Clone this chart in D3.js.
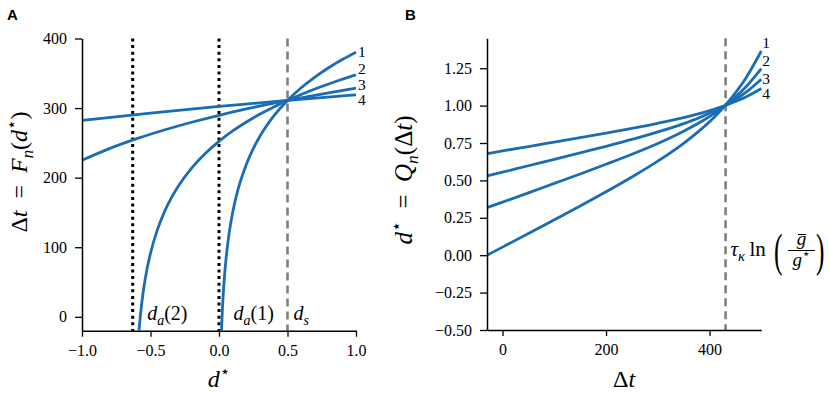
<!DOCTYPE html>
<html><head><meta charset="utf-8">
<script src="https://cdn.jsdelivr.net/npm/d3@7"></script>
<style>body{margin:0;background:#fff}svg{display:block}</style>
</head><body>
<svg id="c" width="829" height="394"></svg>
<script>
// ---------- Panel A data: Δt = F_n(d*) ----------
const a1D = [0.0183,0.02,0.025,0.03,0.035,0.04,0.05,0.06,0.075,0.1,0.125,0.15,0.2,0.25,0.3,0.4,0.5,0.6,0.7,0.8,0.9,1.0];
const a1T = [-20,-10.9,11.4,29.7,45.1,58.4,80.7,99.0,121.3,150.1,172.4,190.6,219.4,241.7,259.9,288.7,311,329.2,344.6,358.0,369.8,380.3];
const a2D = [-0.584,-0.58,-0.575,-0.55,-0.525,-0.5,-0.45,-0.4,-0.35,-0.3,-0.2,-0.1,0,0.1,0.2,0.3,0.4,0.5,0.6,0.7,0.8,0.9,1.0];
const a2T = [-20,-10.9,-0.4,40.2,69.0,91.3,124.9,150.1,170.1,186.8,213.7,234.8,252.2,267.1,280.0,291.4,301.7,311,319.5,327.4,334.6,341.4,347.8];
const a3D = [-1,-0.8,-0.6,-0.4,-0.2,0,0.2,0.4,0.5,0.6,0.8,1.0];
const a3T = [225.0,241.7,256.0,268.5,279.6,289.6,298.7,307.1,311,314.8,321.9,328.6];
const a4D = [-1,-0.5,0,0.25,0.5,0.75,1];
const a4T = [282.2,292.8,302.3,306.7,311,315.1,319.0];
const aCurveLabels = ["1","2","3","4"];
const daLines = [-0.63, 0.0];      // d_a(2), d_a(1)
const dsLine = 0.5;                // d_s
const aXTicks = [-1,-0.5,0,0.5,1];
const aXTickLabels = ["\u22121.0","\u22120.5","0.0","0.5","1.0"];
const aYTicks = [0,100,200,300,400];
const aYTickLabels = ["0","100","200","300","400"];

// ---------- Panel B data: d* = Q_n(Δt) ----------
const bT = [-30,0,50,100,150,200,250,300,350,380,410,430,450,470,500];
const b1 = [0.0,0.054,0.145,0.237,0.329,0.424,0.523,0.629,0.748,0.831,0.926,1.0,1.085,1.183,1.365];
const b2 = [0.318,0.355,0.417,0.480,0.543,0.608,0.675,0.747,0.829,0.885,0.950,1.0,1.057,1.124,1.247];
const b3 = [0.530,0.555,0.598,0.640,0.684,0.728,0.774,0.824,0.880,0.919,0.965,1.0,1.041,1.088,1.176];
const b4 = [0.679,0.697,0.726,0.756,0.786,0.816,0.848,0.882,0.920,0.947,0.977,1.0,1.027,1.057,1.114];
const bCurveLabels = ["1","2","3","4"];
const tauLine = 431;
const bXTicks = [0,200,400];
const bXTickLabels = ["0","200","400"];
const bYTicks = [-0.5,-0.25,0,0.25,0.5,0.75,1,1.25];
const bYTickLabels = ["\u22120.50","\u22120.25","0.00","0.25","0.50","0.75","1.00","1.25"];

const BLUE = "#1a6db5", GREY = "#808080";
const SERIF = "'Liberation Serif', 'Times New Roman', serif";
const svg = d3.select("#c").style("font-family", SERIF);

function rich(parent, x, y, segs, fs, anchor, transform){
  const t = parent.append("text").attr("x",x).attr("y",y).attr("font-size",fs)
    .attr("text-anchor",anchor||"start").attr("fill","#000").style("font-family",SERIF);
  if(transform) t.attr("transform",transform);
  let cur = 0;
  segs.forEach(s=>{
    const size = (s.sub||s.sup) ? fs*0.7 : fs*(s.scale||1);
    const off = s.sub ? fs*0.25 : s.sup ? -fs*0.4 : 0;
    const ts = t.append("tspan").text(s.t).attr("font-size",size).attr("dy",off-cur);
    if(s.it) ts.attr("font-style","italic");
    if(s.ff) ts.style("font-family",s.ff);
    cur = off;
  });
  return t;
}
const STAR = {t:"\u22c6", sup:true, ff:"'DejaVu Sans', sans-serif"};
const EQ = {t:"\u2002=\u2002"};

function styleAxis(g){
  g.attr("font-family", null).attr("font-size", null);
  g.selectAll(".domain").attr("stroke","#000").attr("stroke-width",1.5);
  g.selectAll(".tick line").attr("stroke","#000").attr("stroke-width",1.3);
  g.selectAll(".tick text").style("font-size","16px").style("font-family",SERIF).attr("fill","#000");
}

// ================= Panel A =================
const xA = d3.scaleLinear().domain([-1,1]).range([82,356]);
const yA = d3.scaleLinear().domain([-20,400]).range([330.7,38.5]);
const gA = svg.append("g");
gA.append("clipPath").attr("id","clipA").append("rect").attr("x",80).attr("y",30).attr("width",282).attr("height",300.7);

daLines.forEach(v=>{
  gA.append("line").attr("x1",xA(v)).attr("x2",xA(v)).attr("y1",yA(400)).attr("y2",yA(-20))
    .attr("stroke","#000").attr("stroke-width",3).attr("stroke-dasharray","3,3.6");
});
gA.append("line").attr("x1",xA(dsLine)).attr("x2",xA(dsLine)).attr("y1",yA(400)).attr("y2",yA(-20))
  .attr("stroke",GREY).attr("stroke-width",2.6).attr("stroke-dasharray","8,5");

const lineA = d3.line().x(d=>xA(d[0])).y(d=>yA(d[1])).curve(d3.curveMonotoneX);
[[a1D,a1T],[a2D,a2T],[a3D,a3T],[a4D,a4T]].forEach(([D,T])=>{
  gA.append("path").attr("clip-path","url(#clipA)").attr("d",lineA(D.map((d,i)=>[d,T[i]])))
    .attr("fill","none").attr("stroke",BLUE).attr("stroke-width",2.8);
});

const axAx = gA.append("g").attr("transform",`translate(0,${yA(-20)})`)
  .call(d3.axisBottom(xA).tickValues(aXTicks).tickFormat((d,i)=>aXTickLabels[i]).tickSize(6).tickSizeOuter(0).tickPadding(8));
styleAxis(axAx);
const axAy = gA.append("g").attr("transform",`translate(${xA(-1)},0)`)
  .call(d3.axisLeft(yA).tickValues(aYTicks).tickFormat((d,i)=>aYTickLabels[i]).tickSize(7).tickSizeOuter(0).tickPadding(8));
styleAxis(axAy);

// curve numbers
const aLabY = [56.5,74,89.5,104.5];
aCurveLabels.forEach((l,i)=>{
  gA.append("text").attr("x",xA(1)+2).attr("y",aLabY[i]).attr("font-size",15.5).text(l);
});
// annotations
rich(gA, xA(daLines[0])+14.5, 320, [{t:"d",it:true},{t:"a",it:true,sub:true},{t:"(2)"}], 20);
rich(gA, xA(daLines[1])+14.5, 320, [{t:"d",it:true},{t:"a",it:true,sub:true},{t:"(1)"}], 20);
rich(gA, xA(dsLine)+6, 320, [{t:"d",it:true},{t:"s",it:true,sub:true}], 20);

// axis labels
rich(gA, xA(0), 387, [{t:"d",it:true},STAR], 24, "middle");
rich(gA, 0, 0, [{t:"\u0394"},{t:"t",it:true},EQ,{t:"F",it:true},{t:"n",it:true,sub:true},{t:"("},{t:"d",it:true},STAR,{t:")"}], 24, "middle", "translate(27,172) rotate(-90)");

svg.append("text").attr("x",7).attr("y",20).style("font-family","'Liberation Sans', Arial, sans-serif")
  .attr("font-weight","bold").attr("font-size",15).text("A");

// ================= Panel B =================
const xB = d3.scaleLinear().domain([-30,500]).range([487,761.3]);
const yB = d3.scaleLinear().domain([-0.5,1.45]).range([330,38.3]);
const gB = svg.append("g");

gB.append("line").attr("x1",xB(tauLine)).attr("x2",xB(tauLine)).attr("y1",yB(1.45)).attr("y2",yB(-0.5))
  .attr("stroke",GREY).attr("stroke-width",2.6).attr("stroke-dasharray","8,5");

const lineB = d3.line().x(d=>xB(d[0])).y(d=>yB(d[1])).curve(d3.curveMonotoneX);
[b1,b2,b3,b4].forEach(V=>{
  gB.append("path").attr("d",lineB(bT.map((t,i)=>[t,V[i]])))
    .attr("fill","none").attr("stroke",BLUE).attr("stroke-width",2.8);
});

const axBx = gB.append("g").attr("transform",`translate(0,${yB(-0.5)})`)
  .call(d3.axisBottom(xB).tickValues(bXTicks).tickFormat((d,i)=>bXTickLabels[i]).tickSize(6).tickSizeOuter(0).tickPadding(8));
styleAxis(axBx);
const axBy = gB.append("g").attr("transform",`translate(${xB(-30)},0)`)
  .call(d3.axisLeft(yB).tickValues(bYTicks).tickFormat((d,i)=>bYTickLabels[i]).tickSize(7).tickSizeOuter(0).tickPadding(8));
styleAxis(axBy);

const bLabY = [48,66,83.5,98.5];
bCurveLabels.forEach((l,i)=>{
  gB.append("text").attr("x",xB(500)+1).attr("y",bLabY[i]).attr("font-size",15.5).text(l);
});

// tau annotation
rich(gB, xB(tauLine)+5, 256, [{t:"\u03c4",it:true},{t:"\u03ba",it:true,sub:true},{t:"\u2009ln"}], 21);
gB.append("text").attr("font-size",46).attr("transform","translate(774,266) scale(0.55,1)").text("(");
gB.append("text").attr("font-size",46).attr("transform","translate(816,266) scale(0.55,1)").text(")");
gB.append("line").attr("x1",788).attr("x2",815).attr("y1",250.5).attr("y2",250.5).attr("stroke","#000").attr("stroke-width",1);
gB.append("text").attr("x",801.5).attr("y",245).attr("font-size",19).attr("font-style","italic").attr("text-anchor","middle").text("g");
gB.append("line").attr("x1",798).attr("x2",806).attr("y1",234.5).attr("y2",234.5).attr("stroke","#000").attr("stroke-width",1);
rich(gB, 801.5, 266, [{t:"g",it:true},STAR], 19, "middle");

rich(gB, xB(235), 387, [{t:"\u0394"},{t:"t",it:true}], 24, "middle");
rich(gB, 0, 0, [{t:"d",it:true},STAR,EQ,{t:"Q",it:true},{t:"n",it:true,sub:true},{t:"("},{t:"\u0394"},{t:"t",it:true},{t:")"}], 25, "middle", "translate(412,180) rotate(-90)");

svg.append("text").attr("x",405).attr("y",20).style("font-family","'Liberation Sans', Arial, sans-serif")
  .attr("font-weight","bold").attr("font-size",15).text("B");
</script>
</body></html>
